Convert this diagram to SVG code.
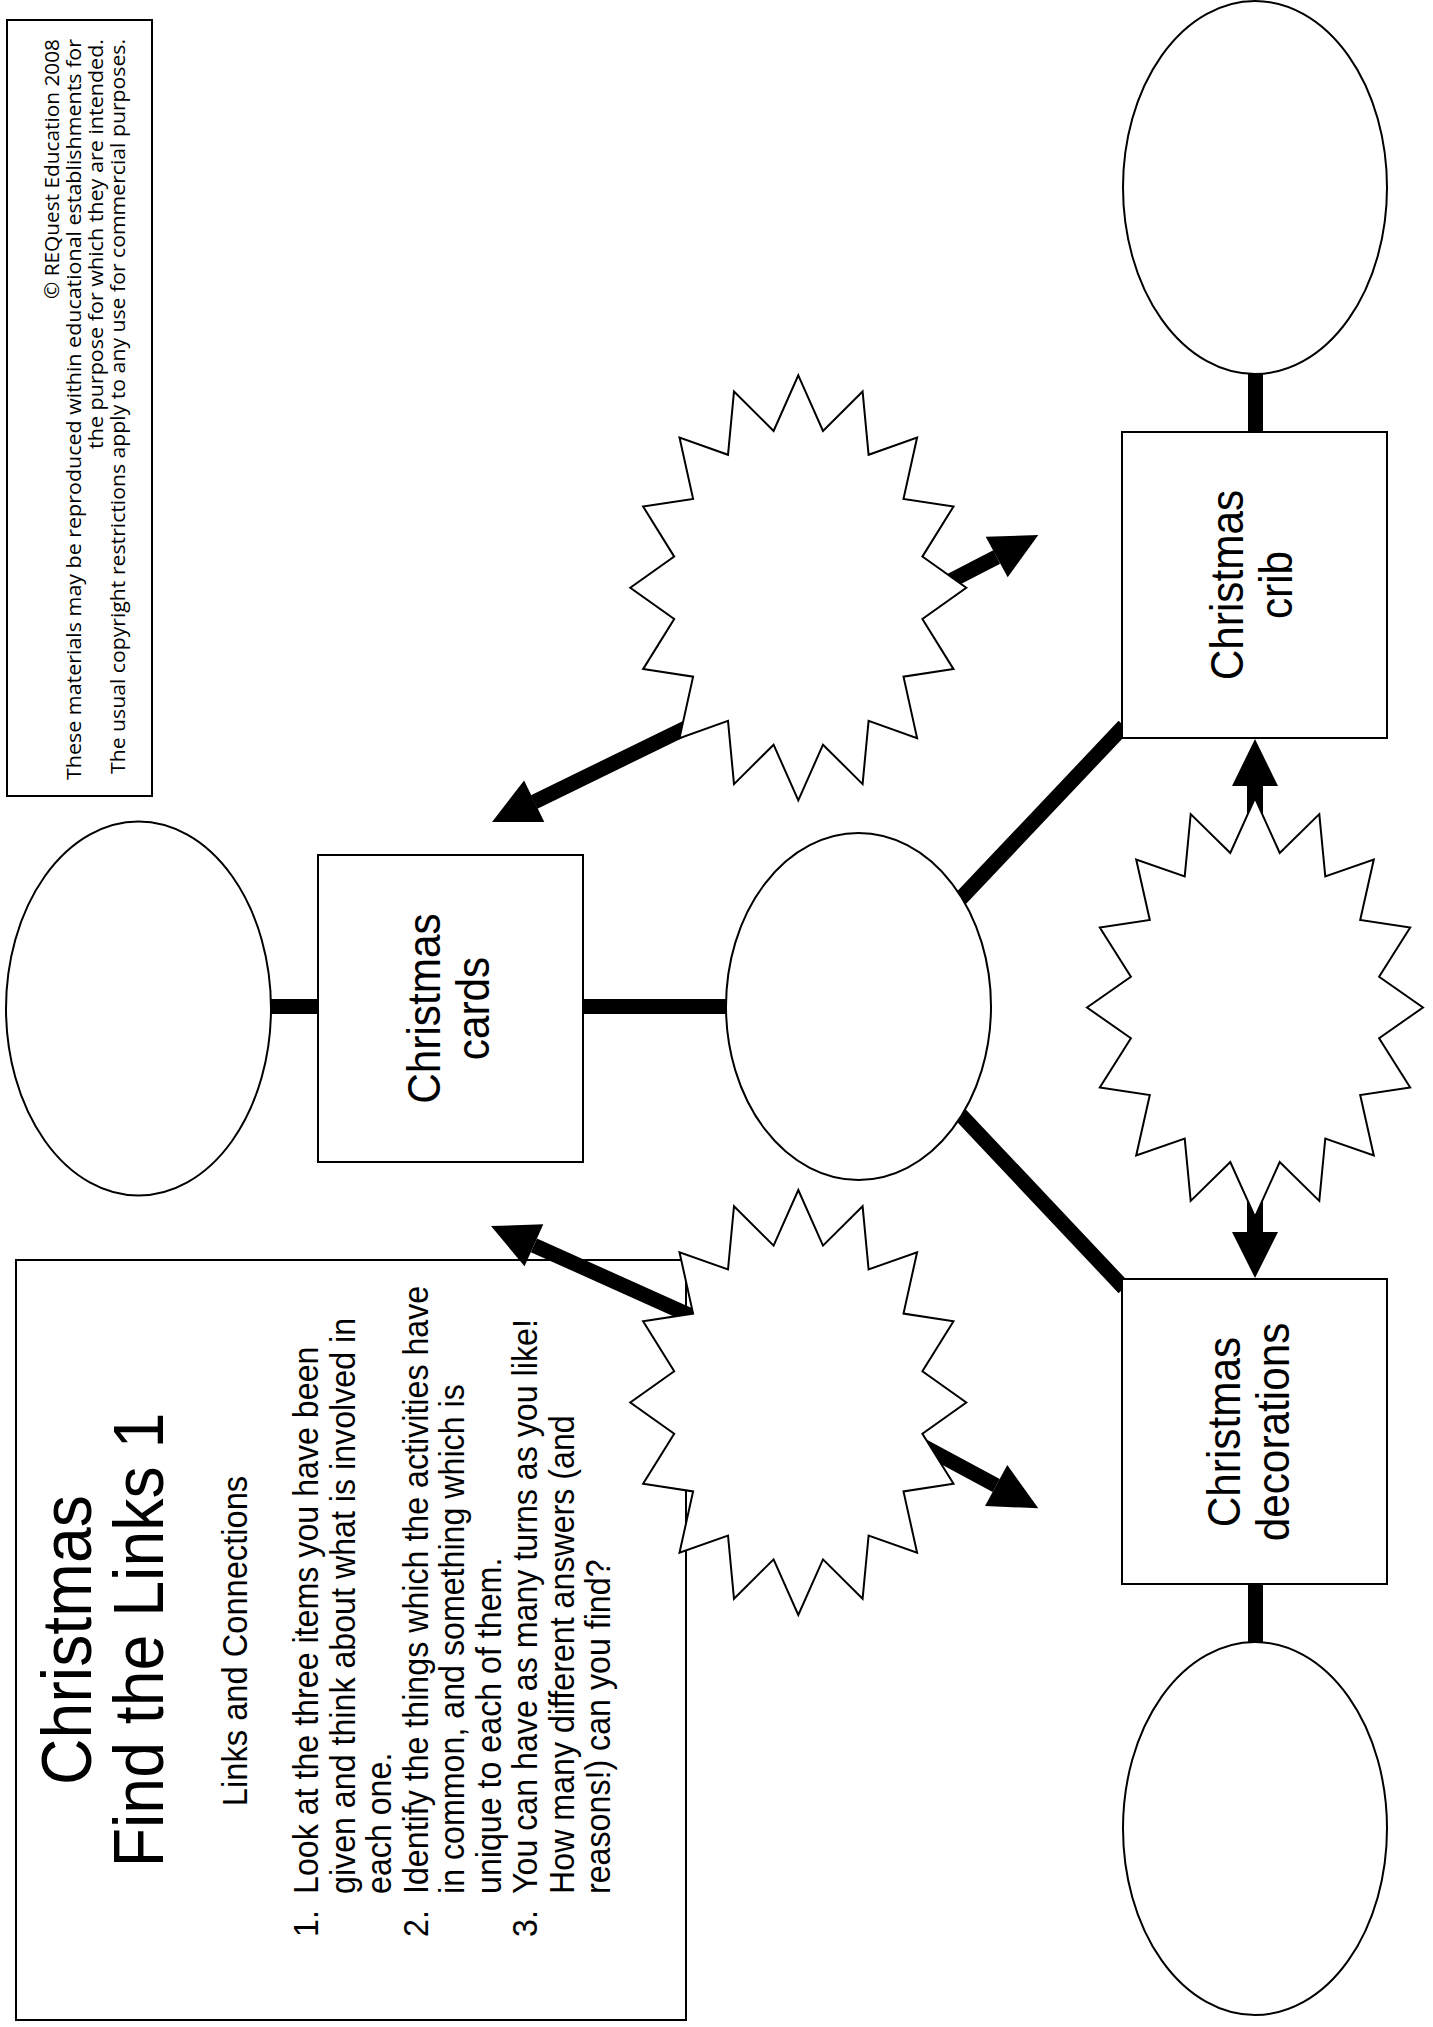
<svg xmlns="http://www.w3.org/2000/svg" xmlns:xlink="http://www.w3.org/1999/xlink" width="1433" height="2027" viewBox="0 0 1433 2027">
<style>
.box{fill:#fff;stroke:#000;stroke-width:2}
.oval{fill:#fff;stroke:#000;stroke-width:2}
.star{fill:#fff;stroke:#000;stroke-width:2;stroke-linejoin:miter}
.conn{stroke:#000;stroke-width:15;fill:none}
.head{fill:#000}
.t{font-family:"Liberation Sans",Arial,Helvetica,sans-serif;fill:#000}
.c{font-family:"Open Sans","Liberation Sans",sans-serif;fill:#000;font-size:20px}
</style>
<defs>
<path id="star" d="M0,-212.5 L24.7,-156.9 L64.3,-196.3 L70.3,-133 L118.8,-150.3 L105.2,-88.9 L155.2,-81.3 L124.1,-31.2 L168,0 L124.1,31.2 L155.2,81.3 L105.2,88.9 L118.8,150.3 L70.3,133 L64.3,196.3 L24.7,156.9 L0,212.5 L-24.7,156.9 L-64.3,196.3 L-70.3,133 L-118.8,150.3 L-105.2,88.9 L-155.2,81.3 L-124.1,31.2 L-168,0 L-124.1,-31.2 L-155.2,-81.3 L-105.2,-88.9 L-118.8,-150.3 L-70.3,-133 L-64.3,-196.3 L-24.7,-156.9 Z"/>
</defs>
<rect width="1433" height="2027" fill="#fff"/>

<g id="copyright">
<rect class="box" x="7" y="20" width="145" height="776"/>
<text class="c" text-anchor="end" transform="translate(59,39) rotate(-90)" textLength="260" lengthAdjust="spacingAndGlyphs">© REQuest Education 2008</text>
<text class="c" text-anchor="end" transform="translate(81,39) rotate(-90)" textLength="741" lengthAdjust="spacingAndGlyphs">These materials may be reproduced within educational establishments for</text>
<text class="c" text-anchor="end" transform="translate(103,39) rotate(-90)" textLength="410" lengthAdjust="spacingAndGlyphs">the purpose for which they are intended.</text>
<text class="c" text-anchor="end" transform="translate(125,39) rotate(-90)" textLength="735" lengthAdjust="spacingAndGlyphs">The usual copyright restrictions apply to any use for commercial purposes.</text>
</g>

<g id="title-box">
<rect class="box" x="16" y="1260" width="670" height="760"/>
<text class="t" font-size="70" text-anchor="middle" transform="translate(91,1640) rotate(-90) scale(0.92,1)">Christmas</text>
<text class="t" font-size="70" text-anchor="middle" transform="translate(163,1640) rotate(-90) scale(0.92,1)">Find the Links 1</text>
<text class="t" font-size="35.5" text-anchor="middle" transform="translate(247,1641) rotate(-90) scale(0.92,1)">Links and Connections</text>
<g font-size="35" class="t">
<text transform="translate(318,1937) rotate(-90) scale(0.92,1)">1.</text>
<text transform="translate(318,1894) rotate(-90) scale(0.92,1)">Look at the three items you have been</text>
<text transform="translate(355,1894) rotate(-90) scale(0.92,1)">given and think about what is involved in</text>
<text transform="translate(391,1894) rotate(-90) scale(0.92,1)">each one.</text>
<text transform="translate(428,1937) rotate(-90) scale(0.92,1)">2.</text>
<text transform="translate(428,1894) rotate(-90) scale(0.92,1)">Identify the things which the activities have</text>
<text transform="translate(464,1894) rotate(-90) scale(0.92,1)">in common, and something which is</text>
<text transform="translate(501,1894) rotate(-90) scale(0.92,1)">unique to each of them.</text>
<text transform="translate(537,1937) rotate(-90) scale(0.92,1)">3.</text>
<text transform="translate(537,1894) rotate(-90) scale(0.92,1)">You can have as many turns as you like!</text>
<text transform="translate(574,1894) rotate(-90) scale(0.92,1)">How many different answers (and</text>
<text transform="translate(610,1894) rotate(-90) scale(0.92,1)">reasons!) can you find?</text>
</g>
</g>

<g id="connectors">
<line class="conn" x1="271" y1="1006.5" x2="320" y2="1006.5"/>
<line class="conn" x1="583" y1="1006.5" x2="728" y2="1006.5"/>
<line class="conn" x1="858.5" y1="1006.5" x2="1124" y2="726"/>
<line class="conn" x1="858.5" y1="1006.5" x2="1124" y2="1288"/>
<line class="conn" x1="1255.5" y1="372" x2="1255.5" y2="434"/>
<line class="conn" x1="1255.5" y1="1582" x2="1255.5" y2="1644"/>
<line class="conn" x1="1255" y1="780" x2="1255" y2="1237" style="stroke-width:16"/>
<polygon class="head" points="1255,739 1232,786 1278,786"/>
<polygon class="head" points="1255,1278 1232,1232 1278,1232"/>
<line class="conn" x1="767.7" y1="688" x2="534.2" y2="802"/>
<polygon class="head" points="492,822 544.3,822 524.1,780.6"/>
<line class="conn" x1="780" y1="1356" x2="533.9" y2="1245.3"/>
<polygon class="head" points="491,1226 543.3,1224.3 524.5,1266.3"/>
<line class="conn" x1="900" y1="607" x2="996.7" y2="557"/>
<polygon class="head" points="1038.3,535 985.7,536.7 1007.7,577.3"/>
<line class="conn" x1="908" y1="1438" x2="996.2" y2="1485.5"/>
<polygon class="head" points="1038.3,1508.3 1007.3,1465 985,1506"/>
</g>

<g id="oval-left"><ellipse class="oval" cx="138.5" cy="1008.5" rx="132.5" ry="187"/></g>
<g id="oval-center"><ellipse class="oval" cx="858.5" cy="1006.5" rx="132.5" ry="173.5"/></g>
<g id="oval-top"><ellipse class="oval" cx="1255" cy="187.5" rx="132" ry="186.5"/></g>
<g id="oval-bottom"><ellipse class="oval" cx="1255" cy="1828.5" rx="132" ry="186.5"/></g>

<g id="box-cards">
<rect class="box" x="318" y="855" width="265" height="307"/>
<text class="t" font-size="46" text-anchor="middle" transform="translate(440,1008.5) rotate(-90) scale(0.92,1)">Christmas</text>
<text class="t" font-size="46" text-anchor="middle" transform="translate(489,1008.5) rotate(-90) scale(0.92,1)">cards</text>
</g>
<g id="box-crib">
<rect class="box" x="1122" y="432" width="265" height="306"/>
<text class="t" font-size="46" text-anchor="middle" transform="translate(1243,585) rotate(-90) scale(0.92,1)">Christmas</text>
<text class="t" font-size="46" text-anchor="middle" transform="translate(1292,585) rotate(-90) scale(0.92,1)">crib</text>
</g>
<g id="box-decorations">
<rect class="box" x="1122" y="1279" width="265" height="305"/>
<text class="t" font-size="46" text-anchor="middle" transform="translate(1240,1432) rotate(-90) scale(0.92,1)">Christmas</text>
<text class="t" font-size="46" text-anchor="middle" transform="translate(1289,1432) rotate(-90) scale(0.92,1)">decorations</text>
</g>

<g id="star-top"><use href="#star" xlink:href="#star" class="star" transform="translate(798.3,587.8)"/></g>
<g id="star-bottom"><use href="#star" xlink:href="#star" class="star" transform="translate(798.3,1402.5)"/></g>
<g id="star-right"><use href="#star" xlink:href="#star" class="star" transform="translate(1255,1007.5) scale(1,0.985)"/></g>
</svg>
